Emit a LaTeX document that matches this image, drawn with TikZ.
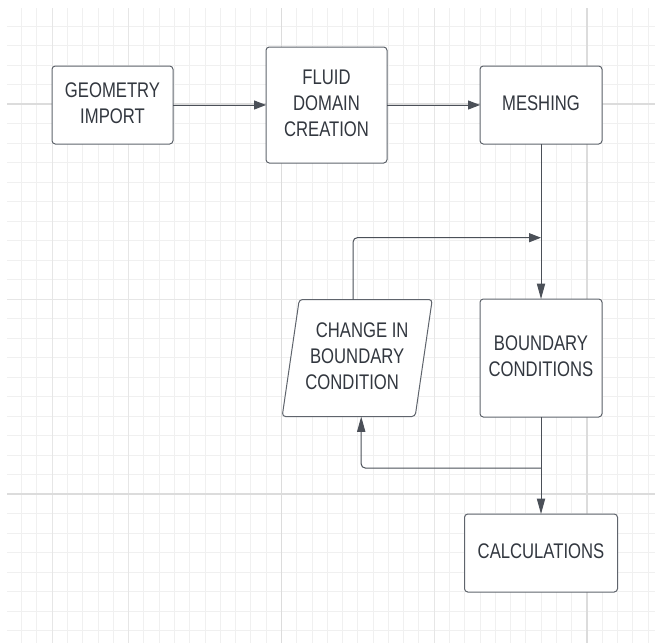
\documentclass[tikz,border=0pt]{standalone}
\usepackage{fontspec}
\usepackage{graphicx}
\setmainfont{Liberation Sans}
\usetikzlibrary{arrows.meta,shapes.geometric}
\definecolor{gridminor}{RGB}{240,240,240}
\definecolor{gridmid}{RGB}{230,230,230}
\definecolor{gridmajor}{RGB}{220,220,220}
\definecolor{boxline}{RGB}{95,100,108}
\definecolor{conline}{RGB}{75,80,88}
\definecolor{txt}{RGB}{50,55,63}
\newcommand\pxu{0.75pt}
\newcommand\lbl[1]{\scalebox{1}[1.27]{\begin{tabular}{@{}c@{}}#1\end{tabular}}}
\tikzset{
  stepbox/.style={draw=boxline, line width=0.75pt, rounded corners=2.5pt, fill=white,
    inner sep=0pt, outer sep=0pt, text=txt,
    font=\fontsize{12.5pt}{15.3pt}\selectfont},
  iobox/.style={trapezium, trapezium stretches=true, trapezium left angle=78.9,
    trapezium right angle=101.1, draw=boxline, line width=0.75pt, rounded corners=2.5pt,
    fill=white, inner sep=0pt, outer sep=0pt, text=txt,
    font=\fontsize{12.5pt}{15.3pt}\selectfont},
  conn/.style={draw=conline, line width=0.75pt},
  harr/.style={conn, -{Triangle[length=9pt,width=6.8pt]}},
  varr/.style={conn, -{Triangle[length=11.6pt,width=6.2pt]}}
}
\begin{document}
\begin{tikzpicture}[x=0.75pt, y=-0.75pt]
\useasboundingbox (0,0) rectangle (655,643);
\fill[white] (0,0) rectangle (655,643);
% grid
\begin{scope}
\clip (7,8) rectangle (655,643);
\foreach \k in {0,...,42}{
  \draw[gridminor, line width=0.75pt] ({6.4+15.28*\k},8) -- ({6.4+15.28*\k},643);
}
\foreach \j in {0,...,33}{
  \draw[gridminor, line width=0.75pt] (7,{6.5+19.5*\j}) -- (655,{6.5+19.5*\j});
}
\foreach \k in {3,8,28}{
  \draw[gridmid, line width=0.75pt] ({6.4+15.28*\k},8) -- ({6.4+15.28*\k},643);
}
\foreach \k in {18,38}{
  \draw[gridmajor, line width=1.1pt] ({6.4+15.28*\k},8) -- ({6.4+15.28*\k},643);
}
\draw[gridmid, line width=0.75pt] (7,{6.5+19.5*15}) -- (655,{6.5+19.5*15});
\foreach \j in {5,25}{
  \draw[gridmajor, line width=1.1pt] (7,{6.5+19.5*\j}) -- (655,{6.5+19.5*\j});
}
\end{scope}
% nodes
\node[stepbox, minimum width=121*\pxu, minimum height=78*\pxu] (geo) at (112.5,105) {\lbl{GEOMETRY\\IMPORT}};
\node[stepbox, minimum width=121*\pxu, minimum height=116*\pxu] (fluid) at (326.5,105) {\lbl{FLUID\\DOMAIN\\CREATION}};
\node[stepbox, minimum width=122*\pxu, minimum height=78*\pxu] (mesh) at (541,105) {\lbl{MESHING}};
\node[stepbox, minimum width=122*\pxu, minimum height=118*\pxu] (bc) at (541,358) {\lbl{BOUNDARY\\CONDITIONS}};
\node[stepbox, minimum width=153*\pxu, minimum height=78*\pxu] (calc) at (541,553) {\lbl{CALCULATIONS}};
\node[iobox, minimum width=151*\pxu, minimum height=117*\pxu] (chg) at (357.2,358)
  {\lbl{\hspace*{7.5pt}CHANGE IN\\BOUNDARY\\CONDITION\hspace*{7.5pt}}};
\coordinate (join) at (541,237.7);
\coordinate (branch) at (541,468);
% connectors
\draw[harr] (geo) -- (fluid);
\draw[harr] (fluid) -- (mesh);
\draw[varr] (mesh) -- (bc);
\draw[harr, rounded corners=3pt] ([xshift=-3pt]chg.north) |- (join);
\draw[varr] (bc) -- (calc);
\draw[varr, rounded corners=3pt] (branch) -| ([xshift=3pt]chg.south);
\end{tikzpicture}
\end{document}
